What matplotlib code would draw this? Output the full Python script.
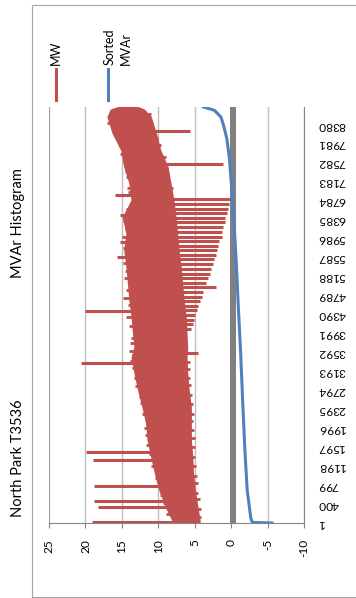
import numpy as np
import matplotlib
matplotlib.use("Agg")
import matplotlib.pyplot as plt
from matplotlib.lines import Line2D
from matplotlib.patches import Rectangle

plt.rcParams['font.family'] = ['Lato', 'DejaVu Sans']

RED = '#C0504D'
BLUE = '#4F81BD'

# MW trace: hour of year with the low / high edge of the dense band
band_hour = [1, 60, 340, 700, 1050, 1390, 1750, 2100, 2440, 2800, 3160, 3500,
             3700, 4000, 4340, 4700, 5050, 5390, 5750, 6100, 6440, 6800, 7160,
             7500, 7850, 8210, 8550, 8700, 8760]
band_high = [8.3, 8.0, 8.9, 9.8, 10.4, 10.9, 11.4, 11.6, 12.1, 12.7, 13.2, 13.6,
             13.2, 13.4, 13.6, 13.9, 14.1, 14.3, 14.6, 14.3, 14.8, 13.6, 13.9,
             14.6, 15.0, 16.2, 16.9, 16.5, 15.3]
band_low = [4.4, 4.4, 4.7, 5.05, 5.3, 5.4, 5.6, 5.6, 5.6, 5.9, 6.1, 6.2,
            6.1, 6.2, 6.3, 6.6, 6.8, 7.0, 7.3, 7.5, 7.7, 8.0, 8.4,
            8.8, 9.8, 10.4, 11.1, 12.0, 13.0]

# short ragged excursions just outside the band edges
notch_hour = [8640, 8420, 8300, 8120, 7930, 7760, 7600, 7420, 7280, 7050, 6960,
              6620, 6350, 6200, 6020, 5800, 5480, 5300, 5150, 4900, 4731, 4600,
              4344, 4150, 3900, 3800, 3620, 3420, 3260, 3050, 2880, 2650, 2520,
              2300, 2000, 1850, 1650, 1450, 1200, 950, 600, 420, 180,
              8620, 8400, 8100, 7950, 7700, 7350, 7050, 3400, 3250, 3050, 2900,
              2700, 2500, 2300, 2150, 1950, 1800, 1600, 1400, 1200, 1000, 850,
              640, 500, 300, 120]
notch_mw = [16.3, 17.0, 16.4, 15.9, 15.4, 15.2, 14.9, 14.6, 14.4, 14.3, 14.2,
            14.4, 14.9, 14.6, 15.0, 14.9, 14.8, 14.6, 14.7, 14.4, 14.8, 14.2,
            14.5, 14.0, 13.8, 13.9, 14.0, 13.9, 13.6, 13.3, 13.2, 12.6, 12.5,
            12.2, 11.9, 11.8, 11.7, 11.3, 11.0, 10.5, 9.8, 9.4, 8.9,
            11.0, 10.8, 10.0, 9.6, 9.0, 8.5, 8.0, 5.7, 5.6, 5.6, 5.5,
            5.4, 5.2, 5.1, 5.2, 5.1, 5.0, 5.0, 4.9, 4.8, 4.7, 4.5,
            4.6, 4.3, 4.2, 4.1]

# isolated MW excursions away from the band
spike_hour = [22, 331, 470, 786, 1327, 1502, 3369, 4470, 5607, 5916, 6485, 6906,
              8253, 7559, 3580,
              6820, 6720, 6620, 6520, 6420, 6330, 6230, 6130, 6030, 5940, 5840,
              5740, 5640, 5550, 5450, 5350, 5250, 5160, 5060, 4960, 4870, 4770,
              4670, 4570, 4480, 4380, 4280, 4190, 4090]
spike_mw = [19.1, 18.3, 18.8, 18.8, 19.0, 19.9, 20.6, 20.0, 15.6, 15.3, 15.2, 15.9,
            5.7, 1.1, 4.5,
            0.2, 0.3, 0.5, 0.6, 0.9, 0.9, 1.1, 1.3, 1.3, 1.6, 1.8,
            1.9, 2.1, 2.4, 2.5, 2.8, 2.9, 3.2, 3.4, 2.1, 3.9, 4.0,
            4.3, 4.5, 4.7, 4.9, 5.1, 5.3, 5.5]

# sorted MVAr duration curve
mvar_hour = [1, 15, 100, 700, 1500, 2500, 3600, 4500, 5500, 6300, 7000, 7700,
             8100, 8350, 8550, 8690, 8760]
mvar_sorted = [-5.6, -2.9, -2.7, -2.2, -1.9, -1.6, -1.3, -1.0, -0.7, -0.4, -0.1,
               0.25, 0.6, 1.0, 1.4, 2.3, 3.8]

zero_ref = -0.3

value_ticks = [25, 20, 15, 10, 5, 0, -5, -10]
hour_ticks = [1, 400, 799, 1198, 1597, 1996, 2395, 2794, 3193, 3592, 3991, 4390,
              4789, 5188, 5587, 5986, 6385, 6784, 7183, 7582, 7981, 8380]

W, H = 356, 598
fig = plt.figure(figsize=(W / 100, H / 100), dpi=100)

# chart frame
fig.add_artist(Rectangle((32 / W, 1 / H), 1.0, 592 / H, transform=fig.transFigure,
                         fill=False, edgecolor='#A6A6A6', lw=0.8))

ax = fig.add_axes([49 / W, 75 / H, 255 / W, 416 / H])
ax.set_xlim(25, -10)
ax.set_ylim(1, 8760)

ax.set_xticks(value_ticks)
ax.set_xticklabels([str(v) for v in value_ticks], rotation=90)
ax.grid(axis='x', color='#BFBFBF', lw=1.0)
ax.set_axisbelow(True)

ax.axvline(zero_ref, color='#808080', lw=4.3, zorder=1.5)

ax.fill_betweenx(band_hour, band_low, band_high, color=RED, lw=1.5, zorder=2)
mid = (np.array(band_low) + np.array(band_high)) / 2
ax.hlines(notch_hour, np.interp(notch_hour, band_hour, mid), notch_mw,
          color=RED, lw=2.0, zorder=2)
ax.hlines(spike_hour, np.interp(spike_hour, band_hour, mid), spike_mw,
          color=RED, lw=2.2, zorder=2)

ax.plot(mvar_sorted, mvar_hour, color=BLUE, lw=2.2, zorder=3)

ax.yaxis.tick_right()
ax.set_yticks(hour_ticks)
ax.set_yticklabels([str(h) for h in hour_ticks], rotation=180, ha='left', va='center')
ax.tick_params(axis='y', length=0, pad=10, labelsize=8.6, colors='black')
ax.tick_params(axis='x', direction='out', length=3.6, width=0.8, color='#868686',
               pad=8, labelsize=8.6)

ax.spines['top'].set_visible(False)
ax.spines['left'].set_color('#A6A6A6')
ax.spines['bottom'].set_color('#868686')
ax.spines['right'].set_color('#868686')

# titles
fig.text(18 / W, 1 - 517 / H, 'North Park T3536', rotation=90,
         ha='center', va='bottom', fontsize=10.5)
fig.text(18 / W, 1 - 278 / H, 'MVAr Histogram', rotation=90,
         ha='center', va='bottom', fontsize=10.5)

# legend
for x, col in [(55.7, RED), (107.5, BLUE)]:
    fig.add_artist(Line2D([x / W, x / W], [1 - 100 / H, 1 - 69 / H],
                          transform=fig.transFigure, color=col, lw=2.2))
fig.text(55.7 / W, 1 - 65 / H, 'MW', rotation=90, ha='center', va='bottom',
         fontsize=9)
fig.text(118 / W, 1 - 65 / H, 'Sorted\nMVAr', rotation=90, ha='center',
         va='bottom', multialignment='left', fontsize=9, linespacing=1.45)

fig.savefig('out.png', dpi=100)
